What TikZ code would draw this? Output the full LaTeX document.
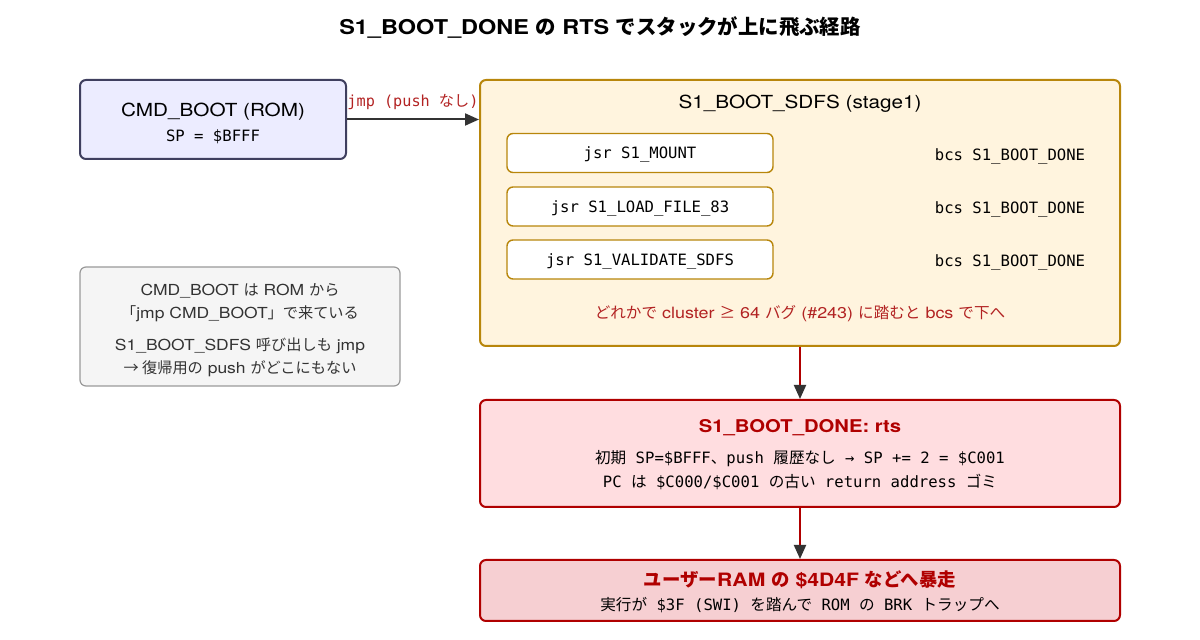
\documentclass[tikz,border=0pt]{standalone}
\usepackage{fontspec}
\setmainfont{TeX Gyre Heros}[FakeStretch=1.15]
\newfontfamily\jf{Noto Sans CJK JP}
\setmonofont{DejaVu Sans Mono}
\usetikzlibrary{arrows.meta}
\definecolor{lavfill}{HTML}{ECECFF}
\definecolor{lavdraw}{HTML}{3F3F5F}
\definecolor{crfill}{HTML}{FFF4DE}
\definecolor{gold}{HTML}{B8860B}
\definecolor{redtxt}{HTML}{B22222}
\definecolor{dred}{HTML}{B00000}
\definecolor{pinkfill}{HTML}{FFDDE0}
\definecolor{pink2}{HTML}{F6CFD2}
\definecolor{notefill}{HTML}{F5F5F5}
\definecolor{notedraw}{HTML}{999999}
\definecolor{ink}{HTML}{333333}
\newcommand{\J}[1]{{\jf #1}}
\tikzset{
  box/.style={rounded corners=3pt, line width=1pt, inner sep=0pt},
  inbox/.style={rounded corners=3pt, line width=0.7pt, draw=gold, fill=white, minimum width=133pt, minimum height=19.5pt, inner sep=0pt, font=\ttfamily\fontsize{7.8pt}{9pt}\selectfont, text height=5.7pt, text depth=0pt},
  mono/.style={font=\ttfamily\fontsize{7.8pt}{9pt}\selectfont, text=black, text height=5.7pt, text depth=0pt},
  sans/.style={font=\fontsize{7.6pt}{9pt}\selectfont},
  tip/.style={-{Triangle[length=7pt,width=6pt,color=ink]}},
}
\begin{document}
\begin{tikzpicture}[x=0.5pt,y=-0.5pt]
\useasboundingbox (0,0) rectangle (1200,640);
% title
\node[font=\bfseries\fontsize{10.2pt}{12pt}\selectfont] (title) at (600,27) {S1\_BOOT\_DONE \J{の} RTS \J{でスタックが上に飛ぶ経路}};
% CMD_BOOT
\node[box, draw=lavdraw, fill=lavfill, minimum width=133pt, minimum height=39.5pt] (cmd) at (213,119.5) {};
\node[font=\fontsize{9pt}{11pt}\selectfont] (cmdt) at (213,112) {CMD\_BOOT (ROM)};
\node[mono] (cmds) at (213,136) {SP = \$BFFF};
% stage1
\node[box, draw=gold, fill=crfill, minimum width=320pt, minimum height=133pt] (stage) at (800,213) {};
\node[font=\fontsize{9pt}{11pt}\selectfont] (staget) at (800,104) {S1\_BOOT\_SDFS (stage1)};
\node[inbox] (i1) at (640,153) {jsr S1\_MOUNT};
\node[inbox] (i2) at (640,206.5) {jsr S1\_LOAD\_FILE\_83};
\node[inbox] (i3) at (640,259.5) {jsr S1\_VALIDATE\_SDFS};
\node[mono] (b1) at (1010,155) {bcs S1\_BOOT\_DONE};
\node[mono] (b2) at (1010,208) {bcs S1\_BOOT\_DONE};
\node[mono] (b3) at (1010,261) {bcs S1\_BOOT\_DONE};
\node[sans, font=\fontsize{7.8pt}{9pt}\selectfont, text=redtxt] (bug) at (800,314) {\J{どれかで} cluster \J{≥} 64 \J{バグ} (\#243) \J{に踏むと} bcs \J{で下へ}};
% note
\node[box, line width=0.6pt, draw=notedraw, fill=notefill, minimum width=160pt, minimum height=59.5pt] (note) at (240,326.5) {};
\node[sans, text=ink] (n1) at (240,291) {CMD\_BOOT \J{は} ROM \J{から}};
\node[sans, text=ink] (n2) at (240,314) {\J{「}jmp CMD\_BOOT\J{」で来ている}};
\node[sans, text=ink] (n3) at (240,346) {S1\_BOOT\_SDFS \J{呼び出しも} jmp};
\node[sans, text=ink] (n4) at (240,369) {\J{→ 復帰用の} push \J{がどこにもない}};
% done
\node[box, draw=dred, fill=pinkfill, minimum width=320pt, minimum height=53.5pt] (done) at (800,453.5) {};
\node[font=\bfseries\fontsize{8.8pt}{11pt}\selectfont, text=dred] (donet) at (800,428) {S1\_BOOT\_DONE: rts};
\node[mono] (d1) at (800,458) {\J{初期}~SP=\$BFFF\J{、}push \J{履歴なし} → SP += 2 = \$C001};
\node[mono] (d2) at (800,482) {PC \J{は} \$C000/\$C001 \J{の古い} return address \J{ゴミ}};
% run
\node[box, draw=dred, fill=pink2, minimum width=320pt, minimum height=30.5pt] (run) at (800,590.5) {};
\node[font=\bfseries\fontsize{9.2pt}{11pt}\selectfont, text=dred] (runt) at (800,580) {\J{ユーザー}RAM \J{の} \$4D4F \J{などへ暴走}};
\node[mono] (r1) at (800,605) {\J{実行が} \$3F (SWI) \J{を踏んで} ROM \J{の} BRK \J{トラップへ}};
% connectors
\draw[tip, line width=1pt, draw=ink] (cmd.east) -- (cmd.east -| stage.west)
  node[midway, above=1pt, font=\ttfamily\fontsize{7.6pt}{9pt}\selectfont, text=redtxt] (jl) {jmp (push \J{なし})};
\draw[tip, line width=1pt, draw=dred] (stage.south) -- (done.north);
\draw[tip, line width=1pt, draw=dred] (done.south) -- (run.north);
\end{tikzpicture}
\end{document}
